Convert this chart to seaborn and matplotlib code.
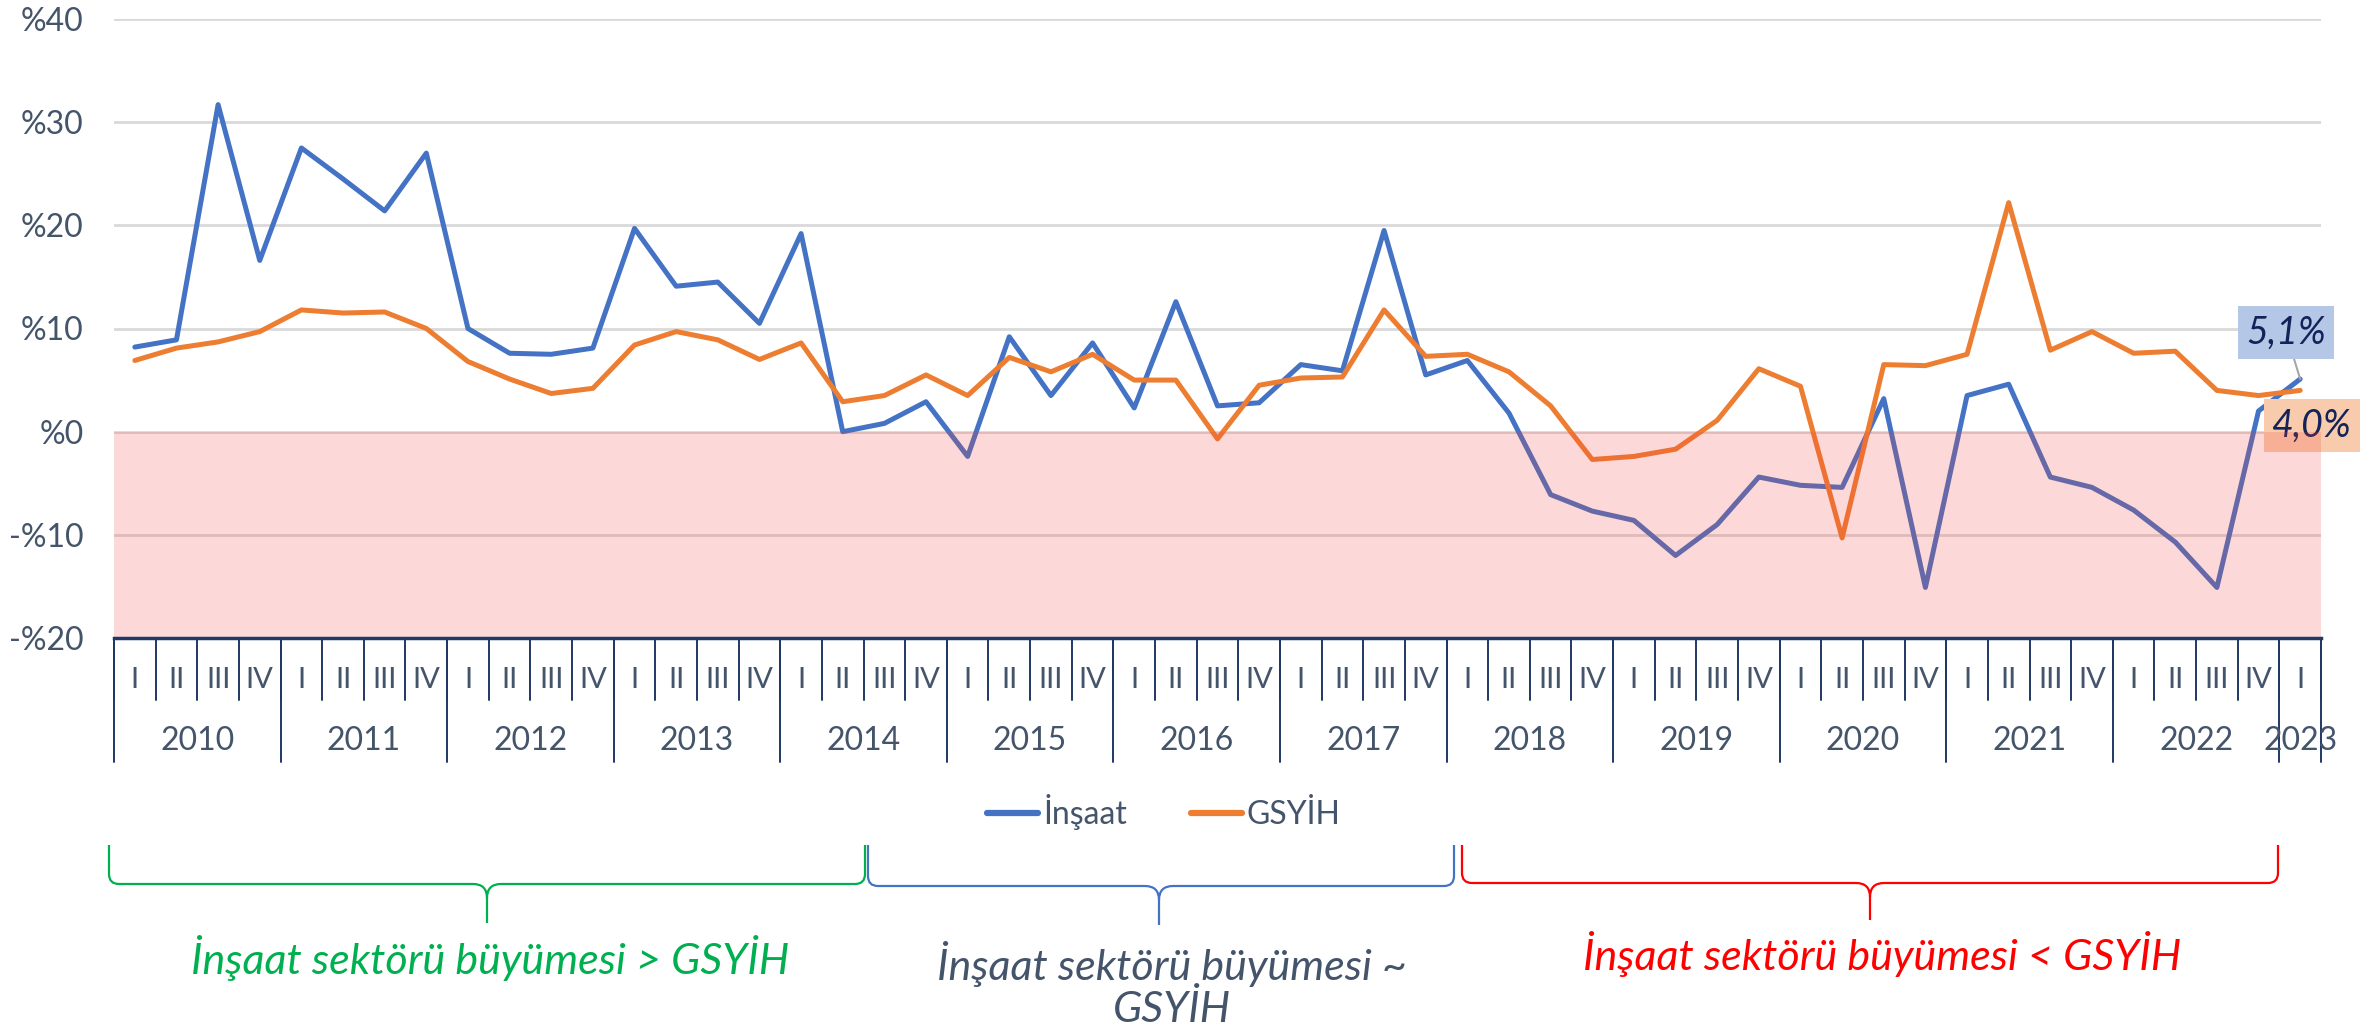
import numpy as np
import pandas as pd
import matplotlib
matplotlib.use("Agg")
import matplotlib.pyplot as plt
from matplotlib.path import Path
from matplotlib.patches import PathPatch
from matplotlib.lines import Line2D
import matplotlib.transforms as mtransforms
import seaborn as sns

# ---------------- data ----------------
years = ["2010", "2011", "2012", "2013", "2014", "2015", "2016",
         "2017", "2018", "2019", "2020", "2021", "2022", "2023"]
quarter_names = ["I", "II", "III", "IV"]
quarters_per_year = [4, 4, 4, 4, 4, 4, 4, 4, 4, 4, 4, 4, 4, 1]

insaat = [8.2, 8.9, 31.7, 16.6, 27.5, 24.5, 21.4, 27.0, 10.0, 7.6,
          7.5, 8.1, 19.7, 14.1, 14.5, 10.5, 19.2, 0.0, 0.8, 2.9,
          -2.4, 9.2, 3.5, 8.6, 2.3, 12.6, 2.5, 2.8, 6.5, 5.9,
          19.5, 5.5, 6.9, 1.8, -6.1, -7.7, -8.6, -12.0, -9.0, -4.4,
          -5.2, -5.4, 3.2, -15.1, 3.5, 4.6, -4.4, -5.4, -7.6, -10.7,
          -15.1, 2.0, 5.1]
gsyih = [6.9, 8.1, 8.7, 9.7, 11.8, 11.5, 11.6, 10.0, 6.8, 5.1,
         3.7, 4.2, 8.4, 9.7, 8.9, 7.0, 8.6, 2.9, 3.5, 5.5,
         3.5, 7.2, 5.8, 7.5, 5.0, 5.0, -0.7, 4.5, 5.2, 5.3,
         11.8, 7.3, 7.5, 5.8, 2.5, -2.7, -2.4, -1.7, 1.1, 6.1,
         4.4, -10.3, 6.5, 6.4, 7.5, 22.2, 7.9, 9.7, 7.6, 7.8,
         4.0, 3.5, 4.0]
series_names = ["İnşaat", "GSYİH"]
y_ticks = [-20, -10, 0, 10, 20, 30, 40]
y_tick_labels = ["-%20", "-%10", "%0", "%10", "%20", "%30", "%40"]
last_labels = ["5,1%", "4,0%"]
region_texts = ["İnşaat sektörü büyümesi > GSYİH",
                "İnşaat sektörü büyümesi ~\nGSYİH",
                "İnşaat sektörü büyümesi < GSYİH"]

# ---------------- styling ----------------
sns.set_style("white")
plt.rcParams["font.family"] = ["Lato", "DejaVu Sans"]
TXT = "#44546a"
BLUE = "#4472c4"
ORANGE = "#ed7d31"
NAVY = "#203864"

W, H = 2379, 1027
fig = plt.figure(figsize=(W / 100, H / 100), dpi=100)
ax_l, ax_r, ax_t, ax_b = 114, 2321, 19, 638
ax = fig.add_axes([ax_l / W, 1 - ax_b / H, (ax_r - ax_l) / W, (ax_b - ax_t) / H])

# build quarter table
q_labels = []
for y, n in zip(years, quarters_per_year):
    for q in quarter_names[:n]:
        q_labels.append(q)
n = len(insaat)
df = pd.DataFrame({
    "idx": list(range(n)) * 2,
    "value": insaat + gsyih,
    "series": [series_names[0]] * n + [series_names[1]] * n,
})

sns.lineplot(data=df, x="idx", y="value", hue="series",
             palette={series_names[0]: BLUE, series_names[1]: ORANGE},
             linewidth=3.6, ax=ax, legend=False, zorder=3)

# pink negative zone drawn over lines
ax.axhspan(-20, 0, color="#f4433c", alpha=0.2, lw=0, zorder=5)

ax.set_xlim(-0.5, n - 0.5)
ax.set_ylim(-20, 40)
ax.set_yticks(y_ticks)
ax.set_yticklabels(y_tick_labels, fontsize=23, color=TXT)
ax.tick_params(axis="y", length=0, pad=22)
ax.set_xticks([])
ax.set_xlabel("")
ax.set_ylabel("")
for yv in y_ticks[1:]:
    ax.axhline(yv, color="#d9d9d9", lw=2, zorder=1)
for s in ["top", "right", "left"]:
    ax.spines[s].set_visible(False)
ax.spines["bottom"].set_color(NAVY)
ax.spines["bottom"].set_linewidth(2.5)
ax.spines["bottom"].set_zorder(6)

# multi-level category axis
trans = mtransforms.blended_transform_factory(ax.transData, ax.transAxes)
ah = ax_b - ax_t
q_tick_bottom = -(700 - ax_b) / ah
y_tick_bottom = -(762 - ax_b) / ah
q_label_y = -(680 - ax_b) / ah
y_label_y = -(741 - ax_b) / ah
for i, q in enumerate(q_labels):
    ax.text(i, q_label_y, q, transform=trans, ha="center", va="center",
            fontsize=21, color=TXT)
for b in range(n + 1):
    ax.plot([b - 0.5, b - 0.5], [0, q_tick_bottom], transform=trans,
            color=NAVY, lw=1.4, clip_on=False)
start = 0
for y, k in zip(years, quarters_per_year):
    ax.text(start + (k - 1) / 2, y_label_y, y, transform=trans, ha="center",
            va="center", fontsize=23, color=TXT)
    ax.plot([start - 0.5, start - 0.5], [0, y_tick_bottom], transform=trans,
            color=NAVY, lw=1.4, clip_on=False)
    start += k
ax.plot([start - 0.5, start - 0.5], [0, y_tick_bottom], transform=trans,
        color=NAVY, lw=1.4, clip_on=False)

# end-point data labels
ax.annotate(last_labels[0], xy=(n - 1, insaat[-1]), xytext=(n - 1.34, 9.6),
            ha="center", va="center", fontsize=27, style="italic",
            color="#13235a", zorder=4,
            bbox=dict(boxstyle="square,pad=0.22", fc="#b4c7e7", ec="none"),
            arrowprops=dict(arrowstyle="-", color="#a6a6a6", lw=1.5,
                            shrinkA=0, shrinkB=0))
ax.text(n - 0.71, 0.6, last_labels[1], ha="center", va="center",
        fontsize=27, style="italic", color="#13235a", zorder=4,
        bbox=dict(boxstyle="square,pad=0.22", fc="#f8cbad", ec="none"))

# legend
handles = [Line2D([0], [0], color=BLUE, lw=4.5),
           Line2D([0], [0], color=ORANGE, lw=4.5)]
leg = fig.legend(handles, series_names, loc="center",
                 bbox_to_anchor=(1164 / W, 1 - 812 / H), ncol=2,
                 frameon=False, fontsize=23, handlelength=1.6,
                 handletextpad=0.15, columnspacing=2.0)
for t in leg.get_texts():
    t.set_color(TXT)


# braces
def brace(x0, x1, xt, ytop, yh, ybot, color):
    r = 10
    tip_r = 14
    def P(x, y):
        return (x / W, 1 - y / H)
    verts = [P(x0, ytop), P(x0, yh - r), P(x0, yh), P(x0 + r, yh),
             P(xt - tip_r, yh), P(xt, yh), P(xt, yh + tip_r), P(xt, ybot),
             P(xt, yh + tip_r), P(xt, yh), P(xt + tip_r, yh),
             P(x1 - r, yh), P(x1, yh), P(x1, yh - r), P(x1, ytop)]
    codes = [Path.MOVETO, Path.LINETO, Path.CURVE3, Path.CURVE3,
             Path.LINETO, Path.CURVE3, Path.CURVE3, Path.LINETO,
             Path.MOVETO, Path.CURVE3, Path.CURVE3,
             Path.LINETO, Path.CURVE3, Path.CURVE3, Path.LINETO]
    patch = PathPatch(Path(verts, codes), transform=fig.transFigure,
                      fill=False, ec=color, lw=1.6)
    fig.patches.append(patch)


brace(109, 865, 487, 845, 884, 923, "#00b050")
brace(868, 1454, 1159, 845, 886, 925, BLUE)
brace(1462, 2278, 1870, 845, 883, 920, "#ff0000")

fig.text(490 / W, 1 - 958 / H, region_texts[0], ha="center", va="center",
         fontsize=31, style="italic", color="#00b050")
fig.text(1172 / W, 1 - 985 / H, region_texts[1], ha="center", va="center",
         fontsize=31, style="italic", color=TXT, linespacing=1.1)
fig.text(1882 / W, 1 - 954 / H, region_texts[2], ha="center", va="center",
         fontsize=31, style="italic", color="#ff0000")

fig.savefig("out.png", dpi=100, facecolor="white")
